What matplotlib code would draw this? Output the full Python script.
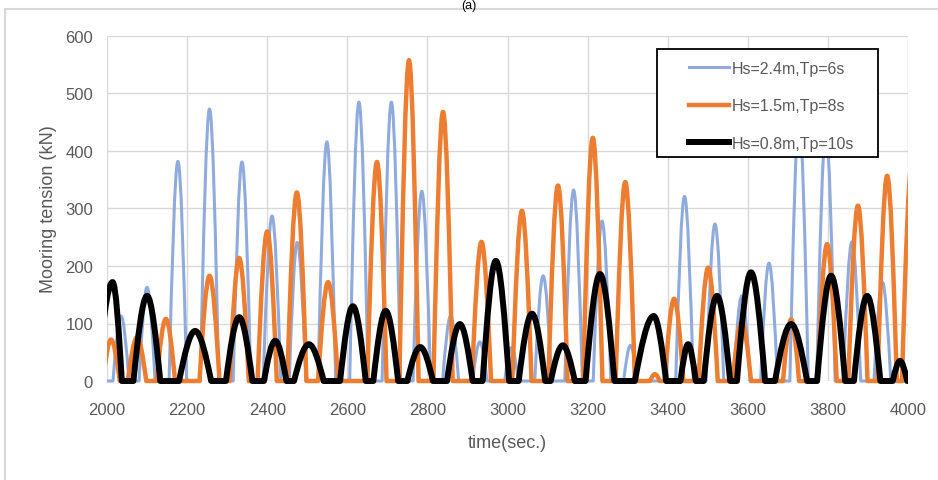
import matplotlib
matplotlib.use("Agg")
import matplotlib.pyplot as plt
from matplotlib.path import Path
from matplotlib.patches import PathPatch, Rectangle
from matplotlib.lines import Line2D

# humps: (start time, peak time, end time, peak tension kN)
blue_humps = [
    (2015, 2035, 2055, 113), (2080, 2100, 2120, 163), (2155, 2177, 2199, 382),
    (2233, 2256, 2279, 473), (2315, 2337, 2359, 381), (2390, 2412, 2434, 287),
    (2455, 2475, 2497, 241), (2527, 2549, 2571, 416), (2606, 2629, 2652, 485),
    (2687, 2710, 2733, 485), (2764, 2786, 2808, 330), (2838, 2858, 2878, 113),
    (2913, 2931, 2949, 68), (2993, 3010, 3027, 58), (3068, 3089, 3110, 183),
    (3143, 3165, 3187, 332), (3214, 3236, 3258, 278), (3290, 3307, 3324, 62),
    (3420, 3442, 3464, 321), (3496, 3518, 3540, 273), (3564, 3585, 3606, 148),
    (3632, 3653, 3674, 205), (3705, 3728, 3751, 455), (3772, 3795, 3818, 435),
    (3838, 3860, 3882, 242), (3915, 3936, 3957, 172),
]
orange_humps = [
    (1990, 2010, 2032, 72), (2052, 2075, 2098, 76), (2124, 2147, 2170, 108),
    (2231, 2256, 2281, 183), (2306, 2330, 2354, 214), (2376, 2400, 2424, 260),
    (2450, 2474, 2498, 328), (2527, 2552, 2577, 172), (2650, 2674, 2698, 381),
    (2730, 2754, 2778, 558), (2815, 2839, 2863, 468), (2911, 2935, 2959, 242),
    (3012, 3036, 3060, 296), (3102, 3126, 3150, 340), (3189, 3213, 3237, 423),
    (3270, 3294, 3318, 346), (3356, 3368, 3380, 12), (3393, 3416, 3439, 143),
    (3477, 3501, 3525, 197), (3562, 3585, 3608, 102), (3688, 3708, 3728, 107),
    (3774, 3798, 3822, 238), (3851, 3875, 3899, 305), (3924, 3948, 3972, 357),
    (3985, 4010, 4035, 380),
]
black_humps = [
    (1975, 2014, 2037, 172), (2066, 2100, 2133, 148), (2180, 2220, 2260, 87),
    (2297, 2330, 2363, 111), (2392, 2420, 2448, 70), (2467, 2504, 2541, 64),
    (2582, 2614, 2646, 130), (2665, 2696, 2727, 122), (2750, 2782, 2814, 59),
    (2849, 2881, 2913, 99), (2938, 2971, 3004, 209), (3028, 3061, 3094, 117),
    (3108, 3138, 3168, 62), (3195, 3231, 3267, 186), (3318, 3365, 3396, 113),
    (3432, 3451, 3470, 64), (3490, 3523, 3556, 148), (3573, 3608, 3643, 189),
    (3668, 3708, 3748, 99), (3773, 3808, 3843, 183), (3865, 3898, 3931, 148),
    (3962, 3980, 3998, 35),
]
labels = ["Hs=2.4m,Tp=6s", "Hs=1.5m,Tp=8s", "Hs=0.8m,Tp=10s"]
x_ticks = list(range(2000, 4001, 200))
y_ticks = list(range(0, 601, 100))

plt.rcParams["font.family"] = ["Liberation Sans", "DejaVu Sans"]

grey = "#595959"
colors = ["#8FAADC", "#ED7D31", "black"]
widths = [2.2, 3.2, 4.3]


def hump_path(humps):
    # baseline at zero between humps, each hump a bezier half-sine lobe
    verts = [(humps[0][0] - 30, 0)]
    codes = [Path.MOVETO]
    for s, p, e, v in humps:
        a, b = p - s, e - p
        verts += [(s, 0),
                  (s + a / 3, v * 0.5236), (s + 2 * a / 3, v), (p, v),
                  (p + b / 3, v), (p + 2 * b / 3, v * 0.5236), (e, 0)]
        codes += [Path.LINETO] + [Path.CURVE4] * 6
    verts.append((humps[-1][2] + 60, 0))
    codes.append(Path.LINETO)
    return Path(verts, codes)


fig = plt.figure(figsize=(9.38, 4.81), dpi=100)
ax = fig.add_axes([107 / 938, 1 - 382 / 481, 801 / 938, 345 / 481])

clip = Rectangle((0, -0.03), 1, 1.08, transform=ax.transAxes, visible=False)
ax.add_patch(clip)
for i, humps in enumerate([blue_humps, orange_humps, black_humps]):
    patch = PathPatch(hump_path(humps), fill=False, edgecolor=colors[i],
                      linewidth=widths[i], joinstyle="round", capstyle="round",
                      zorder=2 + i)
    ax.add_patch(patch)
    patch.set_clip_path(clip)

ax.set_xlim(2000, 4000)
ax.set_ylim(0, 600)
ax.set_xticks(x_ticks)
ax.set_yticks(y_ticks)
ax.grid(True, color="#d9d9d9", linewidth=1.0)
ax.set_axisbelow(True)
for sp in ax.spines.values():
    sp.set_visible(False)
ax.tick_params(length=0, colors=grey, labelsize=12)
ax.tick_params(axis="x", pad=15)
ax.tick_params(axis="y", pad=10)
ax.set_xlabel("time(sec.)", fontsize=13, color=grey, labelpad=12)
ax.set_ylabel("Mooring tension (kN)", fontsize=13, color=grey, labelpad=6)

# legend box
ax.add_patch(Rectangle((0.6866, 0.6493), 0.2759, 0.313, transform=ax.transAxes,
                       facecolor="white", edgecolor="black", linewidth=1.3,
                       zorder=10, clip_on=False))
handles = [Line2D([], [], color=c, linewidth=w) for c, w in zip(colors, widths)]
leg = ax.legend(handles, labels, loc="upper left", bbox_to_anchor=(0.7266, 0.928),
                frameon=False, borderpad=0, borderaxespad=0, handlelength=2.5,
                handletextpad=0.15, labelspacing=1.4, fontsize=11.5,
                labelcolor=grey)
leg.set_zorder(11)

# outer chart frame and caption
fig.patches.append(Rectangle((5 / 938, -0.1), 1.2, 1.1 - 10 / 481,
                             transform=fig.transFigure, fill=False,
                             edgecolor="#d9d9d9", linewidth=1.5))
fig.text(0.5, 0.999, "(a)", ha="center", va="top", fontsize=9, color="black")

fig.savefig("out.png", dpi=100)
